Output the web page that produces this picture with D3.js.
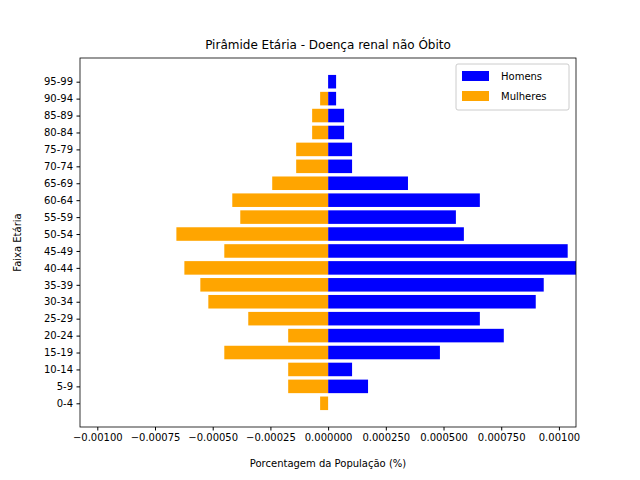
<!DOCTYPE html>
<html><head><meta charset="utf-8">
<script src="https://cdn.jsdelivr.net/npm/d3@7"></script>
<style>body{margin:0}text{font-family:"DejaVu Sans",sans-serif}</style>
</head><body>
<script>
// Faixa etária, de baixo para cima
const faixas = ["0-4","5-9","10-14","15-19","20-24","25-29","30-34","35-39","40-44","45-49",
  "50-54","55-59","60-64","65-69","70-74","75-79","80-84","85-89","90-94","95-99"];
const u = 0.0000346;
const homensN  = [0,5,3,14,22,19,26,27,32,30,17,16,19,10,3,3,2,2,1,1];
const mulheresN = [1,5,5,13,5,10,15,16,18,13,19,11,12,7,4,4,2,2,1,0];
const homens = homensN.map(d => d * u);
const mulheres = mulheresN.map(d => -d * u);
const ticks = [-0.001,-0.00075,-0.0005,-0.00025,0,0.00025,0.0005,0.00075,0.001];
const tickLabels = ["\u22120.00100","\u22120.00075","\u22120.00050","\u22120.00025","0.000000","0.000250","0.000500","0.000750","0.00100"];

const W = 640, H = 480, L = 80, R = 576, T = 58, B = 427;
const svg = d3.select("body").append("svg").attr("width", W).attr("height", H);

const x = d3.scaleLinear().domain([-0.001075, 0.001074]).range([L, R]);
const y = d3.scaleLinear().domain([-1.4, 20.4]).range([B, T]);
const bh = (y(0) - y(0.8));

const g = svg.append("g");
g.append("clipPath").attr("id","c").append("rect").attr("x",L).attr("y",T).attr("width",R-L).attr("height",B-T);
const bars = g.append("g").attr("clip-path","url(#c)");
bars.selectAll(".h").data(homens).enter().append("rect")
  .attr("x", x(0)).attr("y", (d,i) => y(i) - bh/2)
  .attr("width", d => x(d) - x(0)).attr("height", bh).attr("fill", "blue");
bars.selectAll(".m").data(mulheres).enter().append("rect")
  .attr("x", d => x(d)).attr("y", (d,i) => y(i) - bh/2)
  .attr("width", d => x(0) - x(d)).attr("height", bh).attr("fill", "orange");

g.append("rect").attr("x",L).attr("y",T).attr("width",R-L).attr("height",B-T)
  .attr("fill","none").attr("stroke","black").attr("stroke-width",0.8);

const xa = svg.append("g").attr("transform", `translate(0,${B})`)
  .call(d3.axisBottom(x).tickValues(ticks).tickFormat((d,i) => tickLabels[i]).tickSize(3.5).tickPadding(3.5));
xa.select(".domain").remove();
xa.selectAll("text").attr("font-size", 10).attr("fill","black");

const ya = svg.append("g").attr("transform", `translate(${L},0)`)
  .call(d3.axisLeft(y).tickValues(d3.range(20)).tickFormat(i => faixas[i]).tickSize(3.5).tickPadding(3.5));
ya.select(".domain").remove();
ya.selectAll("text").attr("font-size", 10).attr("fill","black");

svg.append("text").attr("x", (L+R)/2).attr("y", 49).attr("text-anchor","middle")
  .attr("font-size", 12).text("Pirâmide Etária - Doença renal não Óbito");
svg.append("text").attr("x", (L+R)/2).attr("y", 467).attr("text-anchor","middle")
  .attr("font-size", 10).text("Porcentagem da População (%)");
svg.append("text").attr("transform", `translate(21,${(T+B)/2}) rotate(-90)`).attr("text-anchor","middle")
  .attr("font-size", 10).text("Faixa Etária");

const lg = svg.append("g").attr("transform", "translate(456,64)");
lg.append("rect").attr("width", 113).attr("height", 46).attr("rx", 2)
  .attr("fill","white").attr("fill-opacity",0.8).attr("stroke","#ccc");
[["Homens","blue"],["Mulheres","orange"]].forEach(([t,c],i) => {
  lg.append("rect").attr("x", 6).attr("y", 7 + i*20).attr("width", 27).attr("height", 10).attr("fill", c);
  lg.append("text").attr("x", 45).attr("y", 16 + i*20).attr("font-size", 10).text(t);
});
</script>
</body></html>
